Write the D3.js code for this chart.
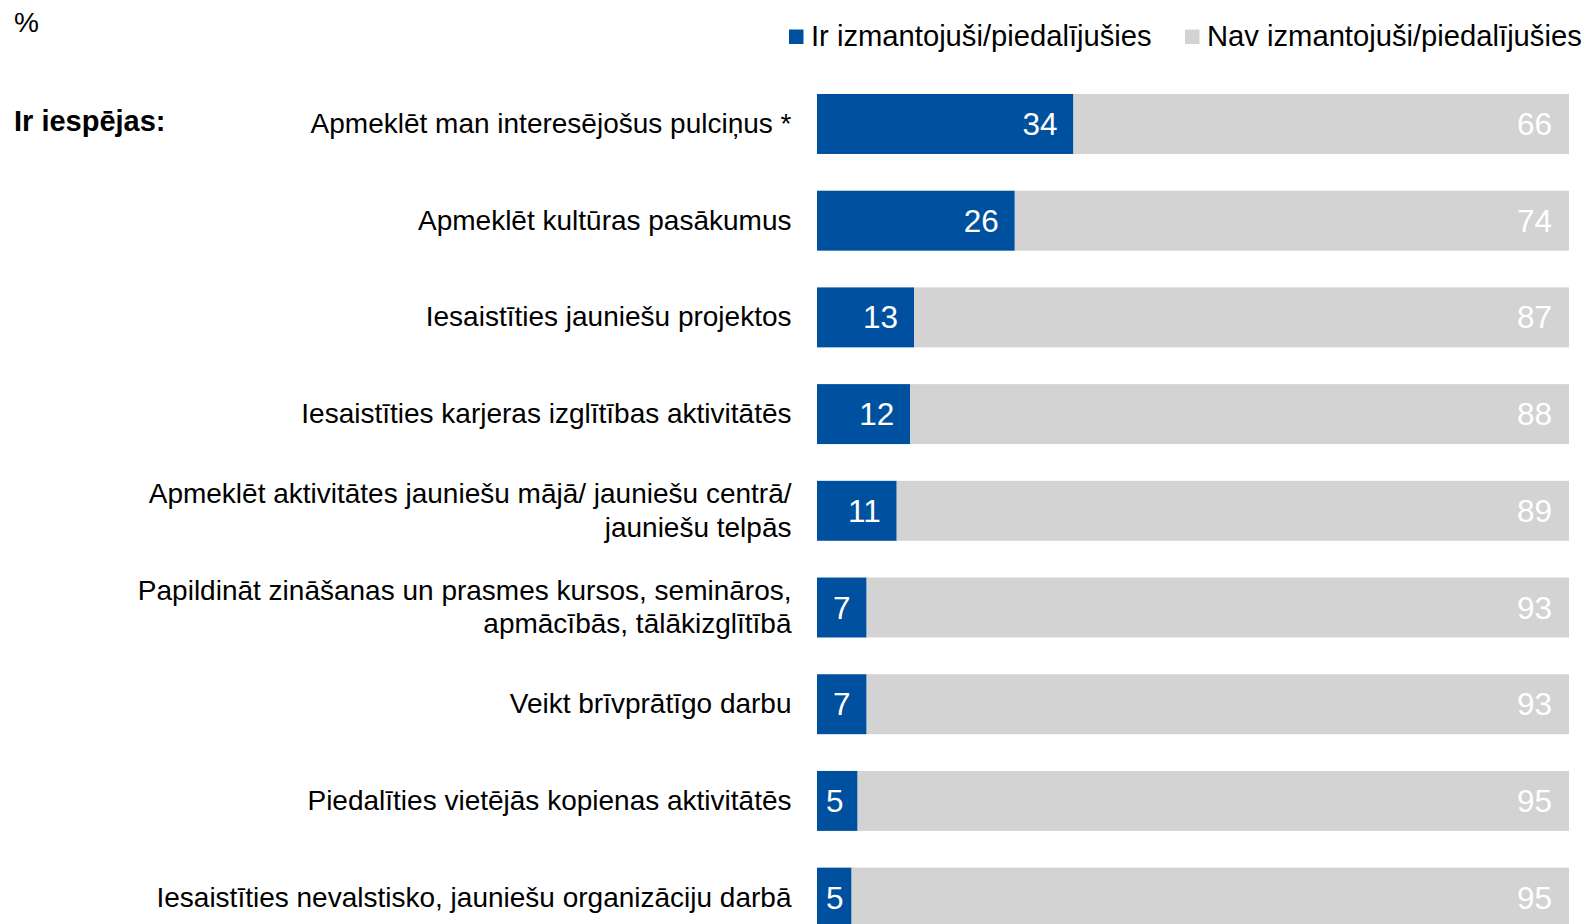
<!DOCTYPE html>
<html>
<head>
<meta charset="utf-8">
<script src="https://cdn.jsdelivr.net/npm/d3@7"></script>
<style>
  body { margin: 0; background: #fff; }
  text { font-family: "Liberation Sans", Arial, sans-serif; }
</style>
</head>
<body>
<script>
  // categories (multi-line labels split by '|')
  const categories = [
    'Apmeklēt man interesējošus pulciņus *',
    'Apmeklēt kultūras pasākumus',
    'Iesaistīties jauniešu projektos',
    'Iesaistīties karjeras izglītības aktivitātēs',
    'Apmeklēt aktivitātes jauniešu mājā/ jauniešu centrā/|jauniešu telpās',
    'Papildināt zināšanas un prasmes kursos, semināros,|apmācībās, tālākizglītībā',
    'Veikt brīvprātīgo darbu',
    'Piedalīties vietējās kopienas aktivitātēs',
    'Iesaistīties nevalstisko, jauniešu organizāciju darbā'
  ];
  const usedValues = [34.1, 26.3, 12.9, 12.4, 10.6, 6.6, 6.6, 5.4, 4.6];
  const notUsedValues = [65.9, 73.7, 87.1, 87.6, 89.4, 93.4, 93.4, 94.6, 95.4];
  const seriesNames = ['Ir izmantojuši/piedalījušies', 'Nav izmantojuši/piedalījušies'];
  const seriesColors = ['#0050A0', '#D3D3D3'];

  const width = 1585;
  const height = 924;

  const svg = d3.select('body')
    .append('svg')
    .attr('width', width)
    .attr('height', height);

  const x = d3.scaleLinear()
    .domain([0, 100])
    .range([817, 1569]);

  const y = d3.scaleBand()
    .domain(categories)
    .range([94, 927.6])
    .paddingInner(0.38)
    .paddingOuter(0);

  const rows = categories.map((c, i) => ({
    cat: c,
    used: usedValues[i],
    notUsed: notUsedValues[i]
  }));

  // top texts
  svg.append('text')
    .attr('x', 14)
    .attr('y', 32)
    .attr('font-size', 28)
    .text('%');

  svg.append('text')
    .attr('x', 14)
    .attr('y', 131)
    .attr('font-size', 29)
    .attr('font-weight', 'bold')
    .text('Ir iespējas:');

  // legend
  const legend = svg.append('g');
  const legendX = [789, 1185];
  seriesNames.forEach((name, i) => {
    legend.append('rect')
      .attr('x', legendX[i])
      .attr('y', 29.5)
      .attr('width', 14.5)
      .attr('height', 14.5)
      .attr('fill', seriesColors[i]);
    legend.append('text')
      .attr('x', legendX[i] + 22)
      .attr('y', 46)
      .attr('font-size', 29.2)
      .attr('fill', '#000')
      .text(name);
  });

  // bars
  const bars = svg.append('g');

  bars.selectAll('rect.used')
    .data(rows)
    .join('rect')
    .attr('class', 'used')
    .attr('x', x(0))
    .attr('y', (d) => y(d.cat))
    .attr('width', (d) => x(d.used) - x(0))
    .attr('height', y.bandwidth())
    .attr('fill', seriesColors[0]);

  bars.selectAll('rect.notused')
    .data(rows)
    .join('rect')
    .attr('class', 'notused')
    .attr('x', (d) => x(d.used))
    .attr('y', (d) => y(d.cat))
    .attr('width', (d) => x(d.used + d.notUsed) - x(d.used))
    .attr('height', y.bandwidth())
    .attr('fill', seriesColors[1]);

  // value labels
  const usedLabels = bars.selectAll('text.used')
    .data(rows)
    .join('text')
    .attr('class', 'used')
    .attr('y', (d) => y(d.cat) + y.bandwidth() / 2 + 11)
    .attr('font-size', 31.5)
    .attr('fill', '#fff')
    .attr('text-anchor', 'end')
    .text((d) => Math.round(d.used));

  usedLabels.each(function (d) {
    const w = this.getComputedTextLength();
    const xr = Math.max(x(d.used) - 16, x(0) + w + 9);
    d3.select(this).attr('x', xr);
  });

  bars.selectAll('text.notused')
    .data(rows)
    .join('text')
    .attr('class', 'notused')
    .attr('x', (d) => x(d.used + d.notUsed) - 17)
    .attr('y', (d) => y(d.cat) + y.bandwidth() / 2 + 11)
    .attr('font-size', 31.5)
    .attr('fill', '#fff')
    .attr('text-anchor', 'end')
    .text((d) => Math.round(d.notUsed));

  // category labels
  const catLabels = svg.append('g')
    .selectAll('text')
    .data(rows)
    .join('text')
    .attr('text-anchor', 'end')
    .attr('font-size', 28)
    .attr('fill', '#000');

  catLabels.each(function (d) {
    const lines = d.cat.split('|');
    const cy = y(d.cat) + y.bandwidth() / 2;
    const lh = 33.4;
    const t = d3.select(this);
    lines.forEach((line, j) => {
      t.append('tspan')
        .attr('x', 791.5)
        .attr('y', cy + 9 + (j - (lines.length - 1) / 2) * lh)
        .text(line);
    });
  });
</script>
</body>
</html>
